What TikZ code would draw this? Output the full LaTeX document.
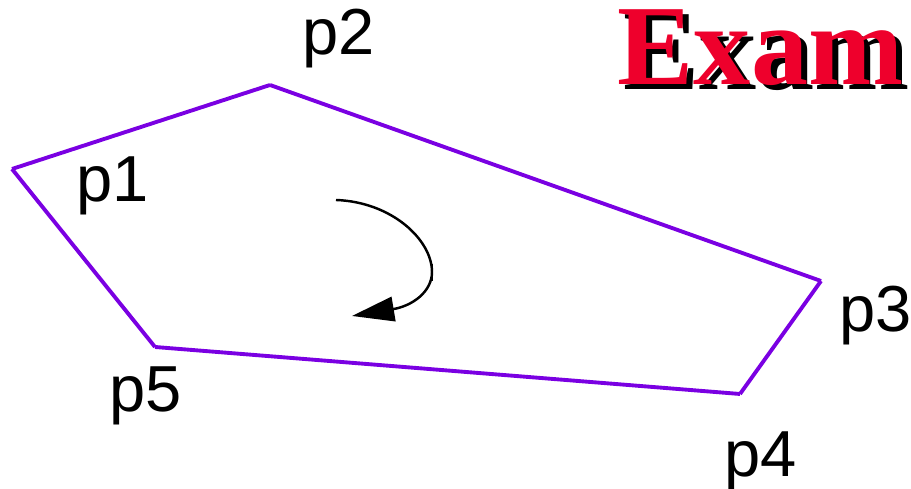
\documentclass[tikz,border=0pt]{standalone}
\usepackage{fontspec}
\setmainfont{Liberation Sans}
\newfontfamily\examfont{Liberation Serif}
\usepackage{xcolor}
\usetikzlibrary{positioning,arrows.meta,calc}
\definecolor{edgeviolet}{RGB}{122,0,226}
\definecolor{examred}{RGB}{238,0,44}
\begin{document}
\begin{tikzpicture}[x=0.01cm, y=-0.01cm,
  edge/.style={draw=edgeviolet, line width=1.1pt, line cap=butt},
  plabel/.style={font=\fontsize{18.5}{20}\selectfont, anchor=base west, inner sep=0pt},
  examtxt/.style={font=\examfont\bfseries\fontsize{32.5}{34}\selectfont, anchor=base west, inner sep=0pt},
  turn/.style={-{Triangle[length=12pt, width=7pt]}, line width=0.7pt, black}]
\useasboundingbox (0,0) rectangle (911,489);
\coordinate (p1) at (12,169);
\coordinate (p2) at (270,85);
\coordinate (p3) at (821,281);
\coordinate (p4) at (740,394);
\coordinate (p5) at (155,347);
\foreach \a/\b in {p1/p2,p2/p3,p3/p4,p4/p5,p5/p1} \draw[edge] (\a) -- (\b);
\node[plabel] (l1) at (76,202) {p1};
\node[plabel] (l2) at (302,55) {p2};
\node[plabel] (l3) at (839,332) {p3};
\node[plabel] (l4) at (724,477) {p4};
\node[plabel] (l5) at (109,412) {p5};
% orientation mark
\coordinate (rs) at (336,200);
\coordinate (rm) at (432,272);
\coordinate (re) at (352,316);
\draw[line width=0.7pt] (rs) .. controls (392,202) and (432,240) .. (rm);
\draw[turn] (rm) .. controls (432,292) and (412,306) .. (re);
\draw[line width=0.7pt] ($(rm)+(0,-8)$) -- ($(rm)+(0,9)$);
% title
\node[examtxt, text=black] (shadow) at (623,90) {Exam};
\node[examtxt, text=examred] (title) at (617,85) {Exam};
\end{tikzpicture}
\end{document}
